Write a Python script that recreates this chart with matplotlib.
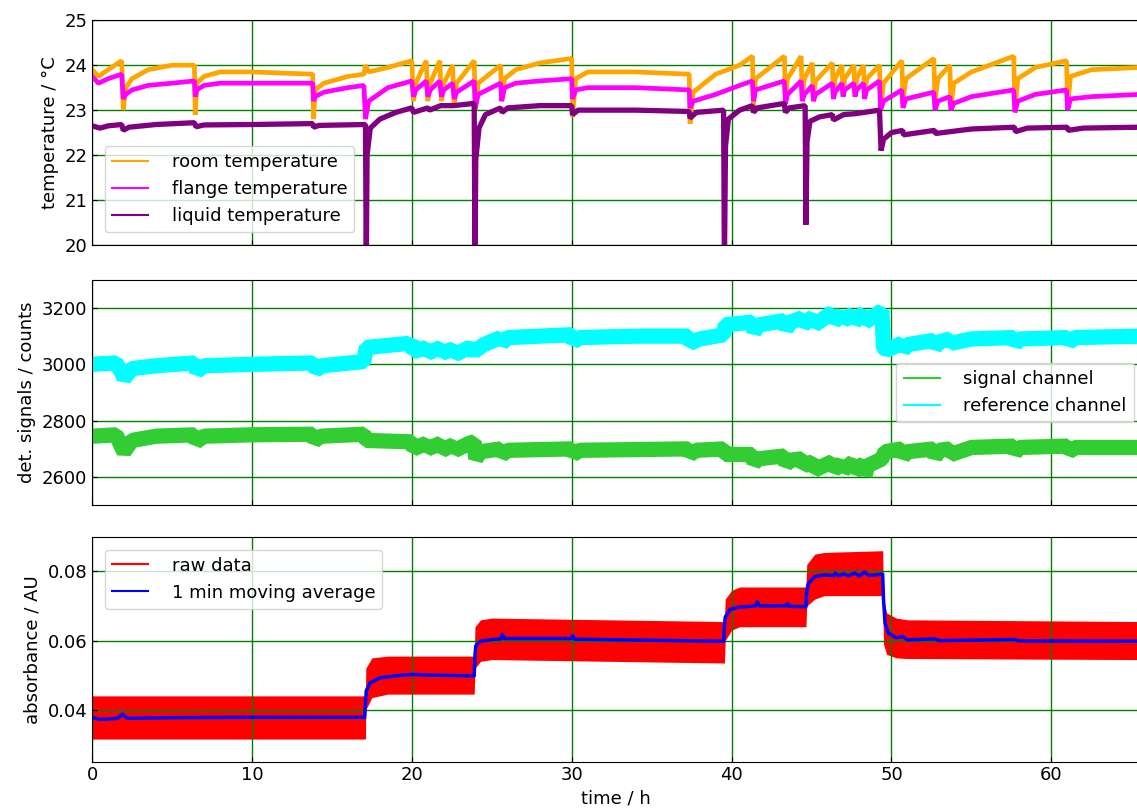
import matplotlib
matplotlib.use('Agg')
import matplotlib.pyplot as plt
from matplotlib.lines import Line2D

# --- 1. Values ---

# Temperatures (time in h, temperature in degC)
room_t = [0, 0.4, 1.0, 1.85, 1.95, 2.1, 2.5, 3.5, 5.0, 6.4, 6.45, 6.55, 7.0, 8.0, 10.0,
          13.8, 13.85, 13.95, 14.5, 16.0, 17.0, 17.1, 17.3, 18.5, 20.0, 20.1, 20.25,
          20.9, 21.0, 21.15, 21.75, 21.85, 22.0, 22.55, 22.65, 22.8, 23.9, 23.97, 24.15,
          25.55, 25.62, 25.8, 26.5, 28.0, 30.0, 30.05, 30.25, 31.0, 34.0, 37.35, 37.4,
          37.6, 39.0, 40.5, 41.3, 41.37, 41.5, 43.3, 43.37, 43.5, 44.35, 44.42, 44.55,
          45.05, 45.12, 45.25, 46.3, 46.37, 46.47, 46.9, 46.97, 47.07, 47.65, 47.72,
          47.82, 48.25, 48.32, 48.45, 49.25, 49.32, 49.5, 50.65, 50.72, 50.9, 52.65,
          52.72, 52.9, 53.65, 53.72, 53.9, 55.0, 57.65, 57.72, 57.9, 59.0, 60.95, 61.02,
          61.2, 62.5, 65.5]
room_temp = [23.9, 23.75, 23.9, 24.1, 23.0, 23.5, 23.7, 23.9, 24.0, 24.0, 22.9, 23.6,
             23.75, 23.85, 23.85, 23.8, 22.8, 23.45, 23.6, 23.75, 23.8, 24.0, 23.85, 23.95,
             24.1, 23.2, 23.6, 24.1, 23.2, 23.6, 24.1, 23.2, 23.6, 24.0, 23.1, 23.6, 24.1,
             23.0, 23.6, 24.0, 23.2, 23.7, 23.9, 24.05, 24.15, 22.85, 23.7, 23.85, 23.85,
             23.8, 22.7, 23.4, 23.8, 24.0, 24.2, 23.1, 23.7, 24.2, 23.3, 23.7, 24.2, 23.3,
             23.7, 24.05, 23.3, 23.65, 24.05, 23.3, 23.7, 24.0, 23.35, 23.7, 24.0, 23.35,
             23.7, 24.0, 23.3, 23.7, 24.0, 23.0, 23.6, 24.1, 23.2, 23.7, 24.15, 23.2, 23.7,
             24.0, 23.1, 23.6, 23.85, 24.2, 23.0, 23.7, 23.95, 24.1, 23.1, 23.75, 23.9,
             23.95]
flange_temp = [23.75, 23.6, 23.7, 23.8, 23.25, 23.35, 23.45, 23.55, 23.6, 23.65, 23.3,
               23.45, 23.55, 23.6, 23.6, 23.6, 23.2, 23.3, 23.4, 23.5, 23.55, 22.8, 23.2,
               23.5, 23.65, 23.3, 23.45, 23.65, 23.3, 23.45, 23.65, 23.3, 23.45, 23.6,
               23.25, 23.4, 23.65, 23.05, 23.35, 23.6, 23.2, 23.5, 23.6, 23.65, 23.7,
               23.25, 23.45, 23.5, 23.5, 23.45, 23.05, 23.2, 23.35, 23.55, 23.65, 23.2,
               23.45, 23.65, 23.15, 23.35, 23.65, 23.2, 23.35, 23.55, 23.2, 23.35, 23.6,
               23.25, 23.4, 23.6, 23.3, 23.45, 23.6, 23.3, 23.45, 23.6, 23.25, 23.45,
               23.65, 23.0, 23.2, 23.45, 23.05, 23.25, 23.4, 23.0, 23.2, 23.3, 23.0,
               23.15, 23.3, 23.45, 22.95, 23.2, 23.35, 23.45, 23.0, 23.25, 23.3, 23.35]

liquid_t = [0, 0.5, 1.0, 1.85, 1.95, 2.3, 4.0, 6.4, 6.5, 7.0, 10.0, 13.8, 13.85, 14.2,
            17.1, 17.15, 17.2, 17.4, 18.0, 19.0, 20.0, 20.1, 21.0, 21.1, 21.8, 22.6, 23.9,
            23.95, 24.0, 24.2, 24.6, 25.55, 25.65, 26.0, 28.0, 30.0, 30.05, 30.4, 34.0,
            37.35, 37.4, 37.8, 39.5, 39.55, 39.62, 39.8, 40.5, 41.3, 41.37, 41.6, 43.3,
            43.37, 43.6, 44.6, 44.65, 44.72, 44.9, 45.5, 46.3, 46.37, 47.0, 47.7, 48.3,
            49.25, 49.35, 49.5, 50.0, 50.7, 50.75, 52.7, 52.75, 55.0, 57.7, 57.75, 58.5,
            61.0, 61.05, 62.0, 65.5]
liquid_temp = [22.65, 22.6, 22.65, 22.68, 22.55, 22.62, 22.68, 22.72, 22.63, 22.67, 22.68,
               22.7, 22.62, 22.66, 22.68, 19.5, 22.0, 22.6, 22.8, 22.95, 23.05, 22.95,
               23.05, 23.0, 23.1, 23.1, 23.15, 19.5, 21.9, 22.6, 22.9, 23.05, 22.95, 23.05,
               23.1, 23.1, 22.9, 23.0, 23.0, 22.97, 22.82, 22.95, 23.0, 19.5, 22.2, 22.8,
               23.0, 23.1, 22.95, 23.05, 23.15, 22.95, 23.05, 23.1, 20.45, 22.3, 22.75,
               22.85, 22.9, 22.78, 22.9, 22.92, 22.95, 23.0, 22.1, 22.35, 22.5, 22.55,
               22.45, 22.55, 22.48, 22.58, 22.62, 22.52, 22.6, 22.62, 22.55, 22.6, 22.62]

# Detector signals (counts)
sig_t = [0, 1.5, 1.9, 2.0, 2.5, 4.0, 6.4, 6.5, 7.0, 10.0, 13.8, 13.9, 14.3, 17.0, 17.15,
         20.0, 20.1, 20.9, 21.0, 21.8, 21.9, 22.6, 22.7, 23.6, 23.9, 24.0, 24.3, 25.55,
         25.62, 26.0, 30.0, 30.1, 30.5, 37.3, 37.4, 37.8, 39.5, 39.6, 41.3, 41.4, 41.7,
         43.3, 43.4, 43.7, 44.4, 44.5, 45.1, 45.2, 46.3, 46.4, 46.9, 47.0, 47.6, 47.7,
         48.3, 48.35, 48.5, 49.25, 49.4, 49.6, 50.65, 50.72, 51.0, 52.65, 52.72, 53.0,
         53.65, 53.72, 55.0, 57.65, 57.72, 58.0, 61.0, 61.1, 61.5, 65.5]
signal_ch = [2745, 2750, 2700, 2690, 2730, 2745, 2750, 2725, 2745, 2750, 2752, 2728, 2745,
             2752, 2730, 2725, 2700, 2720, 2700, 2720, 2695, 2715, 2695, 2720, 2725, 2665,
             2690, 2700, 2678, 2695, 2700, 2680, 2695, 2700, 2680, 2695, 2700, 2680, 2680,
             2650, 2665, 2675, 2645, 2660, 2665, 2640, 2655, 2625, 2655, 2625, 2650, 2625,
             2655, 2620, 2650, 2605, 2640, 2660, 2665, 2690, 2700, 2672, 2690, 2700, 2670,
             2695, 2700, 2680, 2705, 2710, 2685, 2705, 2710, 2690, 2705, 2705]

ref_t = [0, 1.5, 1.9, 2.0, 2.5, 4.0, 6.4, 6.55, 7.0, 10.0, 13.8, 14.0, 14.4, 17.0, 17.15,
         19.9, 20.0, 20.1, 20.9, 21.0, 21.8, 21.9, 22.6, 22.7, 23.6, 23.9, 24.0, 24.5,
         25.55, 25.62, 26.0, 28.0, 30.0, 30.1, 30.5, 34.0, 37.3, 37.4, 38.0, 39.5, 39.6,
         41.3, 41.4, 41.7, 43.3, 43.4, 43.7, 44.4, 44.5, 45.1, 45.2, 46.3, 46.4, 46.9,
         47.0, 47.6, 47.7, 48.3, 48.35, 49.25, 49.4, 49.5, 49.7, 50.65, 50.72, 51.0, 52.65,
         52.72, 53.0, 53.65, 53.72, 55.0, 57.65, 57.72, 58.0, 61.0, 61.1, 61.5, 65.5]
reference_ch = [3000, 3005, 2965, 2950, 2985, 2995, 3005, 2975, 2995, 3000, 3005, 2980,
                2995, 3010, 3060, 3075, 3080, 3045, 3060, 3040, 3060, 3040, 3055, 3035,
                3060, 3045, 3050, 3070, 3095, 3075, 3095, 3100, 3105, 3080, 3095, 3100,
                3100, 3075, 3090, 3105, 3140, 3150, 3115, 3140, 3155, 3125, 3150, 3165,
                3140, 3170, 3140, 3185, 3150, 3180, 3155, 3180, 3150, 3185, 3150, 3185,
                3190, 3060, 3050, 3075, 3050, 3070, 3085, 3060, 3080, 3090, 3075, 3090,
                3095, 3070, 3090, 3095, 3078, 3095, 3100]

# Absorbance: envelope of the raw data and the 1 min moving average
raw_t = [0, 17.1, 17.12, 17.5, 18.5, 23.9, 23.95, 24.3, 25.0, 39.55, 39.6, 40.0, 40.5,
         44.65, 44.7, 45.2, 45.8, 49.45, 49.5, 49.7, 50.3, 51.0, 65.5]
raw_hi = [0.0440, 0.0440, 0.0520, 0.0550, 0.0555, 0.0555, 0.0640, 0.0660, 0.0665, 0.0655,
          0.0720, 0.0745, 0.0755, 0.0755, 0.0820, 0.0850, 0.0855, 0.0860, 0.0720, 0.0680,
          0.0665, 0.0660, 0.0655]
raw_lo = [0.0315, 0.0315, 0.0400, 0.0435, 0.0445, 0.0445, 0.0520, 0.0540, 0.0545, 0.0535,
          0.0600, 0.0630, 0.0640, 0.0640, 0.0700, 0.0720, 0.0730, 0.0730, 0.0590, 0.0560,
          0.0550, 0.0548, 0.0545]

avg_t = [0, 0.5, 1.6, 1.9, 2.2, 5.0, 10.0, 17.05, 17.1, 17.15, 17.4, 18.0, 19.0, 20.0,
         21.0, 23.9, 23.95, 24.0, 24.3, 25.0, 25.6, 25.65, 25.8, 30.0, 30.05, 30.2, 35.0,
         39.5, 39.55, 39.6, 39.9, 40.5, 41.5, 41.6, 41.75, 43.4, 43.5, 43.6, 44.65, 44.7,
         44.8, 45.2, 45.8, 46.4, 46.5, 46.7, 47.0, 47.3, 47.7, 48.0, 48.3, 48.6, 49.45,
         49.5, 49.6, 49.8, 50.3, 50.7, 51.0, 52.7, 53.0, 57.7, 58.0, 65.5]
avg_abs = [0.0378, 0.0372, 0.0375, 0.0387, 0.0375, 0.0377, 0.0378, 0.0378, 0.0420, 0.0455,
           0.0478, 0.0492, 0.0498, 0.0502, 0.0500, 0.0498, 0.0560, 0.0585, 0.0598, 0.0603,
           0.0605, 0.0618, 0.0606, 0.0606, 0.0614, 0.0604, 0.0601, 0.0598, 0.0640, 0.0668,
           0.0690, 0.0697, 0.0700, 0.0712, 0.0700, 0.0701, 0.0707, 0.0699, 0.0698, 0.0745,
           0.0765, 0.0785, 0.0790, 0.0788, 0.0795, 0.0787, 0.0793, 0.0787, 0.0795, 0.0787,
           0.0798, 0.0788, 0.0792, 0.0720, 0.0650, 0.0622, 0.0608, 0.0612, 0.0602, 0.0605,
           0.0600, 0.0603, 0.0599, 0.0598]

# --- 2. Figure ---
plt.rcParams['font.family'] = 'DejaVu Sans'
plt.rcParams['font.size'] = 13
plt.rcParams['xtick.direction'] = 'in'
plt.rcParams['ytick.direction'] = 'in'

fig = plt.figure(figsize=(11.37, 8.11), dpi=100)
ax1 = fig.add_axes([0.081, 0.698, 0.921, 0.277])
ax2 = fig.add_axes([0.081, 0.377, 0.921, 0.278], sharex=ax1)
ax3 = fig.add_axes([0.081, 0.061, 0.921, 0.277], sharex=ax1)

# Plot 1: temperatures (thick lines stand in for the sensor noise)
ax1.plot(room_t, room_temp, color='orange', lw=3.4, solid_joinstyle='bevel')
ax1.plot(room_t, flange_temp, color='magenta', lw=3.4, solid_joinstyle='bevel')
ax1.plot(liquid_t, liquid_temp, color='purple', lw=3.8, solid_joinstyle='bevel')
ax1.set_ylim(20, 25)
ax1.set_ylabel('temperature / °C')
temp_handles = [Line2D([], [], color='orange', lw=1.5),
                Line2D([], [], color='magenta', lw=1.5),
                Line2D([], [], color='purple', lw=1.5)]
ax1.legend(temp_handles, ['room temperature', 'flange temperature', 'liquid temperature'],
           loc='lower left', handletextpad=1.3, borderaxespad=0.7)

# Plot 2: detector signals
ax2.plot(sig_t, signal_ch, color='limegreen', lw=11, solid_joinstyle='bevel')
ax2.plot(ref_t, reference_ch, color='cyan', lw=11, solid_joinstyle='bevel')
ax2.set_ylim(2500, 3300)
ax2.set_yticks([2600, 2800, 3000, 3200])
ax2.set_ylabel('det. signals / counts')
sig_handles = [Line2D([], [], color='limegreen', lw=1.5),
               Line2D([], [], color='cyan', lw=1.5)]
ax2.legend(sig_handles, ['signal channel', 'reference channel'],
           loc='center right', handletextpad=1.3, borderaxespad=0.3)

# Plot 3: absorbance
ax3.fill_between(raw_t, raw_lo, raw_hi, color='red', lw=0)
ax3.plot(avg_t, avg_abs, color='blue', lw=2.5)
ax3.set_ylim(0.025, 0.090)
ax3.set_yticks([0.04, 0.06, 0.08])
ax3.set_ylabel('absorbance / AU')
ax3.set_xlabel('time / h')
abs_handles = [Line2D([], [], color='red', lw=1.5),
               Line2D([], [], color='blue', lw=1.5)]
ax3.legend(abs_handles, ['raw data', '1 min moving average'],
           loc='upper left', handletextpad=1.3, borderaxespad=0.7)

for ax in (ax1, ax2, ax3):
    ax.grid(True, color='green', lw=1.0)
    ax.set_xlim(0, 65.5)
    ax.tick_params(top=False, right=False)
for ax in (ax1, ax2):
    ax.tick_params(labelbottom=False)
ax3.set_xticks([0, 10, 20, 30, 40, 50, 60])

fig.savefig('out.png', dpi=100)
